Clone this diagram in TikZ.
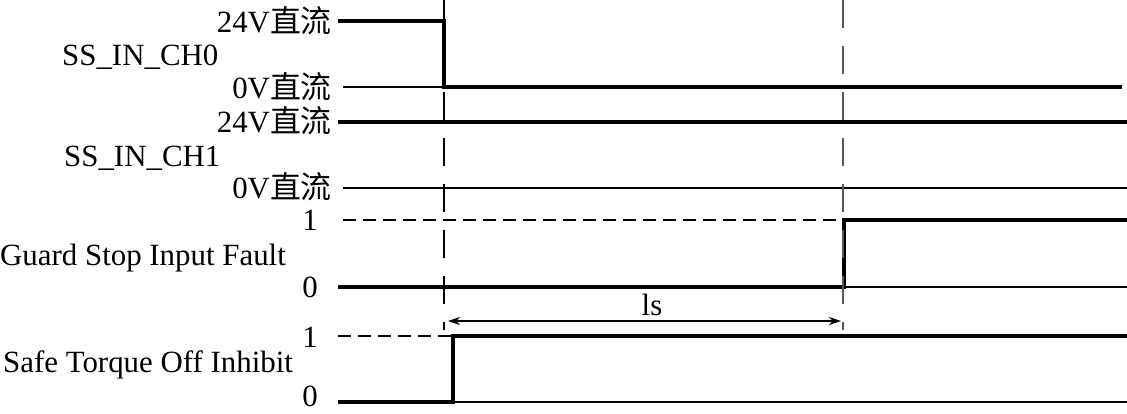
\documentclass[tikz,border=0pt]{standalone}
\usepackage{fontspec}
\setmainfont{Liberation Serif}
\newfontfamily\cjk{Noto Sans CJK SC}
\usetikzlibrary{arrows.meta}
\begin{document}
\begin{tikzpicture}[x=1bp,y=-1bp,
  font=\fontsize{31}{36}\selectfont,
  sig/.style={line width=4bp},
  thinbase/.style={line width=2bp},
  lvl/.style={line width=1.8bp, dash pattern=on 13bp off 7bp},
  vguide/.style={line width=1.5bp, dash pattern=on 28bp off 18bp},
  rlab/.style={inner sep=0pt, anchor=base east},
  llab/.style={inner sep=0pt, anchor=base west},
  clab/.style={inner sep=0pt, anchor=base}]
\useasboundingbox (0,0) rectangle (1127,413);

% left labels
\node[llab] (ch0) at (62,65) {SS\_IN\_CH0};
\node[llab] (ch1) at (64,166) {SS\_IN\_CH1};
\node[llab] (gsf) at (0,265) {Guard Stop Input Fault};
\node[llab] (sto) at (3,372) {Safe Torque Off Inhibit};

% level labels
\node[rlab] (l24a) at (332,32) {24V{\cjk 直流}};
\node[rlab] (l0a)  at (332,98) {0V{\cjk 直流}};
\node[rlab] (l24b) at (332,132) {24V{\cjk 直流}};
\node[rlab] (l0b)  at (332,198) {0V{\cjk 直流}};
\node[clab] (g1) at (310,230) {1};
\node[clab] (g0) at (310,297) {0};
\node[clab] (s1) at (310,347) {1};
\node[clab] (s0) at (310,406) {0};

% SS_IN_CH0
\draw[thinbase] (343,87) -- (444,87);
\draw[sig] (338,21) -- (444,21) -- (444,87) -- (1122,87);
% SS_IN_CH1
\draw[sig] (338,122) -- (1127,122);
\draw[thinbase] (343,188) -- (1127,188);
% Guard Stop Input Fault
\draw[lvl] (343,220) -- (844,220);
\draw[thinbase] (844,287) -- (1127,287);
\draw[sig] (338,287) -- (844,287) -- (844,220) -- (1127,220);
% Safe Torque Off Inhibit
\draw[lvl] (338,336) -- (453,336);
\draw[thinbase] (453,402) -- (1127,402);
\draw[sig] (338,402) -- (453,402) -- (453,336) -- (1127,336);

% time guides
\coordinate (va) at (444,0);
\coordinate (vb) at (444,330);
\coordinate (vc) at (843,0);
\coordinate (vd) at (843,330);
\draw[vguide] (va) -- (vb);
\draw[vguide, black!65] (vc) -- (vd);

% 1 s interval
\coordinate (a1) at (448,321);
\coordinate (a2) at (841,321);
\draw[line width=1.8bp, {Stealth[length=12bp,width=8bp]}-{Stealth[length=12bp,width=8bp]}] (a1) -- (a2);
\node[clab] (ls) at (652,315) {ls};
\end{tikzpicture}
\end{document}
